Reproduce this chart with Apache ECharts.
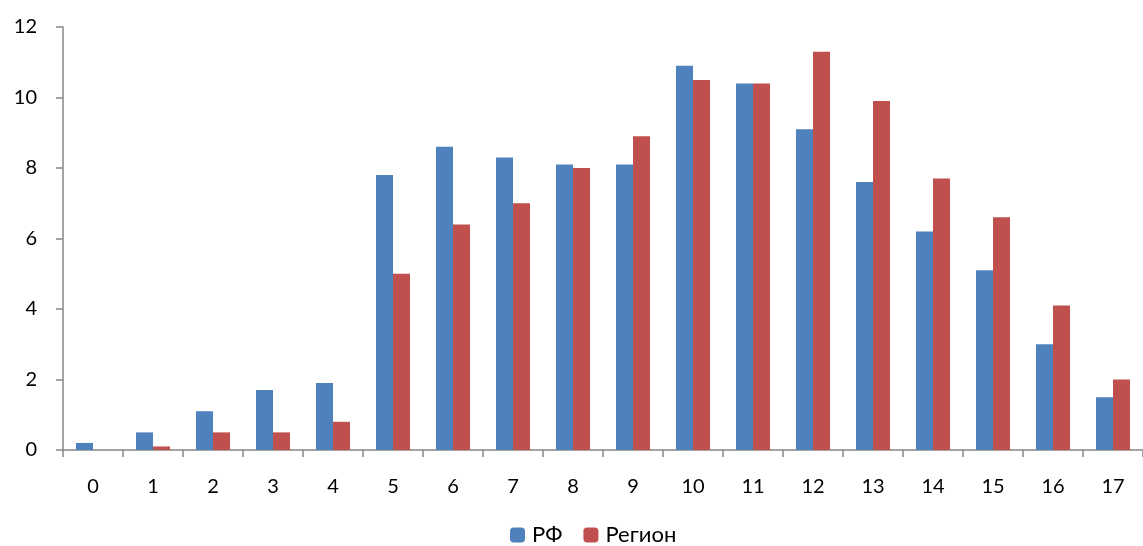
<!DOCTYPE html>
<html><head><meta charset="utf-8">
<script src="https://cdn.jsdelivr.net/npm/echarts@6/dist/echarts.min.js"></script>
<style>html,body{margin:0;padding:0;background:#fff}#c{width:1143px;height:546px}</style>
</head><body><div id="c"></div>
<script>
const categories = ['0','1','2','3','4','5','6','7','8','9','10','11','12','13','14','15','16','17'];
const rfValues = [0.2,0.5,1.1,1.7,1.9,7.8,8.6,8.3,8.1,8.1,10.9,10.4,9.1,7.6,6.2,5.1,3.0,1.5];
const regionValues = [0,0.1,0.5,0.5,0.8,5.0,6.4,7.0,8.0,8.9,10.5,10.4,11.3,9.9,7.7,6.6,4.1,2.0];
const seriesNames = ['РФ','Регион'];

const chart = echarts.init(document.getElementById('c'));
const font = 'Lato, "Open Sans", sans-serif';
chart.setOption({
  animation:false,
  textStyle:{fontFamily:font},
  grid:{left:63,top:27,width:1089,height:423,containLabel:false},
  legend:{top:524,left:510,padding:0,itemWidth:15,itemHeight:15,itemGap:21,
    textStyle:{fontSize:22,color:'#000',fontFamily:font,padding:[0,0,0,2]},
    data:seriesNames},
  xAxis:{type:'category',data:categories,
    axisLine:{lineStyle:{color:'#868686',width:1.5}},
    axisTick:{show:true,length:7,lineStyle:{color:'#868686',width:1.5}},
    axisLabel:{fontSize:20,color:'#000',margin:27,fontFamily:font}},
  yAxis:{type:'value',min:0,max:12,interval:2,
    axisLine:{show:true,lineStyle:{color:'#868686',width:1.5}},
    axisTick:{show:true,length:7,lineStyle:{color:'#868686',width:1.5}},
    splitLine:{show:false},
    axisLabel:{fontSize:20,color:'#000',margin:26,fontFamily:font}},
  series:[
    {name:seriesNames[0],type:'bar',data:rfValues,barWidth:17,barGap:'0%',itemStyle:{color:'#4F81BD'}},
    {name:seriesNames[1],type:'bar',data:regionValues,barWidth:17,barGap:'0%',itemStyle:{color:'#C0504D'}}
  ]
});
</script></body></html>
